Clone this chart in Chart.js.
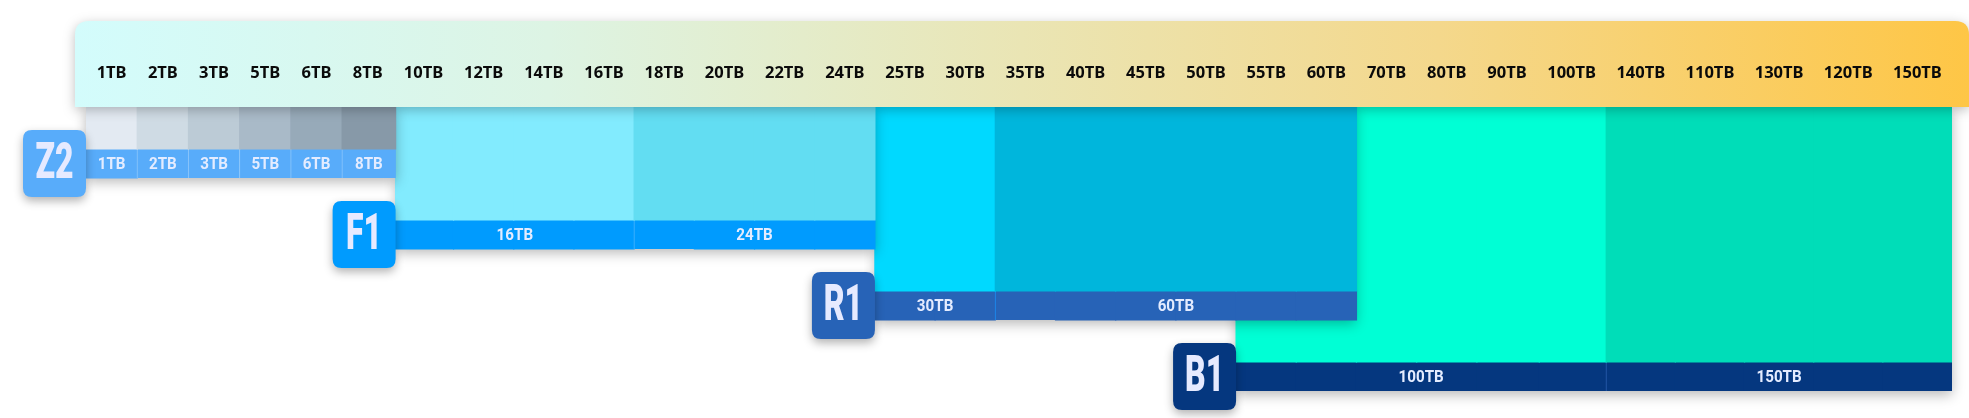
<!DOCTYPE html>
<html>
<head>
<meta charset="utf-8">
<script src="https://cdn.jsdelivr.net/npm/chart.js@4.4.1/dist/chart.umd.min.js"></script>
<style>
	html, body { margin: 0; padding: 0; background: #ffffff; }
	canvas { display: block; }
</style>
</head>
<body>
<canvas id="tierChart" width="1969" height="418"></canvas>
<script>
// header columns (order as printed on the source)
const capacities = [
	"1TB", "2TB", "3TB", "5TB", "6TB", "8TB",
	"10TB", "12TB", "14TB", "16TB", "18TB", "20TB", "22TB", "24TB",
	"25TB", "30TB", "35TB", "40TB", "45TB", "50TB", "55TB", "60TB",
	"70TB", "80TB", "90TB", "100TB", "140TB", "110TB", "130TB", "120TB", "150TB",
];

const tiers = ["Z2", "F1", "R1", "B1"];
const tierLevel = [1, 2, 3, 4];

// each cell runs from a "from" column up to its own capacity column
const z2Cells = ["1TB", "2TB", "3TB", "5TB", "6TB", "8TB"];
const z2From = ["1TB", "2TB", "3TB", "5TB", "6TB", "8TB"];
const f1Cells = ["16TB", "24TB"];
const f1From = ["10TB", "18TB"];
const r1Cells = ["30TB", "60TB"];
const r1From = ["25TB", "35TB"];
const b1Cells = ["100TB", "150TB"];
const b1From = ["55TB", "140TB"];

const cellLists = [z2Cells, f1Cells, r1Cells, b1Cells];
const fromLists = [z2From, f1From, r1From, b1From];

// styles
const bodyColors = [
	["#e3eaf2", "#cfdbe4", "#bccbd6", "#a9bac8", "#97aab9", "#8799a8"],
	["#82ebfe", "#62ddf2"],
	["#00d9ff", "#00b6dc"],
	["#00ffd5", "#00ddb8"],
];
const stripColors = ["#58acfa", "#009bfe", "#2763b7", "#05377f"];
const dividerColors = ["#8ec7fb", "#4db5fb", "#1a8ff5", "#2c5fb0"];
const STRIP = 0.41;

const headFont = { family: '"Noto Sans"', size: 16.5, weight: "bold" };

// header columns sit side by side with an even gap between texts
const measure = document.createElement("canvas").getContext("2d");
measure.font = "bold 16.5px 'Noto Sans'";
const textW = capacities.map((c) => measure.measureText(c).width);
const GAP = 24;
const colPos = [];
textW.forEach((w, i) => {
	colPos.push(i === 0 ? w / 2 : colPos[i - 1] + (textW[i - 1] + w) / 2 + GAP);
});
const last = colPos.length - 1;
const xMin = colPos[0] - (colPos[1] - colPos[0]) / 2;
const xMax = colPos[last] + (colPos[last] - colPos[last - 1]) / 2;

// which cell of a tier each column belongs to
const cellOfCol = cellLists.map((cells, t) =>
	capacities.map((c, i) => {
		for (let k = 0; k < cells.length; k++) {
			const a = capacities.indexOf(fromLists[t][k]);
			const b = capacities.indexOf(cells[k]);
			if (i >= a && i <= b) return k;
		}
		return -1;
	})
);

const datasets = [];
tiers.forEach((name, t) => {
	const cellOf = cellOfCol[t];
	const level = tierLevel[t];
	datasets.push({
		label: name + " body",
		tier: t,
		role: "body",
		data: colPos.map((x, i) => ({ x: x, y: cellOf[i] >= 0 ? [0, level - STRIP] : null })),
		backgroundColor: (ctx) => bodyColors[t][cellOf[ctx.dataIndex]] || "rgba(0,0,0,0)",
		borderWidth: 0,
		inflateAmount: 0.6,
	});
	datasets.push({
		label: name,
		tier: t,
		role: "strip",
		data: colPos.map((x, i) => ({ x: x, y: cellOf[i] >= 0 ? [level - STRIP, level] : null })),
		backgroundColor: (ctx) => (cellOf[ctx.dataIndex] >= 0 ? stripColors[t] : "rgba(0,0,0,0)"),
		borderColor: dividerColors[t],
		borderSkipped: false,
		inflateAmount: 0.6,
		borderWidth: (ctx) => {
			const i = ctx.dataIndex;
			const k = cellOf[i];
			return k > 0 && cellOf[i - 1] !== k ? { left: 1, right: 0, top: 0, bottom: 0 } : 0;
		},
	});
});

function tierCols(t) {
	const out = [];
	cellOfCol[t].forEach((k, i) => { if (k >= 0) out.push(i); });
	return out;
}

function barEdges(meta, i) {
	const el = meta.data[i];
	return { left: el.x - el.width / 2, right: el.x + el.width / 2 };
}

function roundRect(ctx, x, y, w, h, r) {
	const [tl, tr, br, bl] = Array.isArray(r) ? r : [r, r, r, r];
	ctx.beginPath();
	ctx.moveTo(x + tl, y);
	ctx.lineTo(x + w - tr, y);
	ctx.quadraticCurveTo(x + w, y, x + w, y + tr);
	ctx.lineTo(x + w, y + h - br);
	ctx.quadraticCurveTo(x + w, y + h, x + w - br, y + h);
	ctx.lineTo(x + bl, y + h);
	ctx.quadraticCurveTo(x, y + h, x, y + h - bl);
	ctx.lineTo(x, y + tl);
	ctx.quadraticCurveTo(x, y, x + tl, y);
	ctx.closePath();
}

// condensed look: draw text squeezed horizontally
function squeezedText(ctx, text, x, y, sx) {
	ctx.save();
	ctx.translate(x, y);
	ctx.scale(sx, 1);
	ctx.fillText(text, 0, 0);
	ctx.restore();
}

const tierDecor = {
	id: "tierDecor",
	beforeDatasetDraw(chart, args) {
		const ds = chart.data.datasets[args.index];
		if (ds.role !== "strip") return;
		const t = ds.tier;
		const cols = tierCols(t);
		const y = chart.scales.y;
		const left = barEdges(args.meta, cols[0]).left;
		const right = barEdges(args.meta, cols[cols.length - 1]).right;
		const top = y.getPixelForValue(0);
		const bottom = y.getPixelForValue(tierLevel[t]);
		const ctx = chart.ctx;
		ctx.save();
		ctx.shadowColor = "rgba(0,0,0,0.28)";
		ctx.shadowBlur = 12;
		ctx.shadowOffsetY = 4;
		ctx.fillStyle = stripColors[t];
		ctx.fillRect(left, top, right - left, bottom - top);
		ctx.restore();
	},
	afterDatasetsDraw(chart) {
		const ctx = chart.ctx;
		const area = chart.chartArea;
		const xs = chart.scales.x;
		const y = chart.scales.y;

		// header band
		const hx = area.left - 11;
		const hy = xs.top;
		ctx.save();
		ctx.shadowColor = "rgba(0,0,0,0.25)";
		ctx.shadowBlur = 12;
		ctx.shadowOffsetY = 3;
		const grad = ctx.createLinearGradient(hx, 0, chart.width, 0);
		grad.addColorStop(0, "#d3fcfc");
		grad.addColorStop(0.25, "#ddf4e4");
		grad.addColorStop(0.5, "#eae5b4");
		grad.addColorStop(0.72, "#f4d88c");
		grad.addColorStop(1, "#fec646");
		ctx.fillStyle = grad;
		roundRect(ctx, hx, hy, chart.width - hx, area.top - hy, [14, 14, 0, 0]);
		ctx.fill();
		ctx.restore();

		// strip labels and tier badges
		chart.data.datasets.forEach((ds, di) => {
			if (ds.role !== "strip") return;
			const t = ds.tier;
			const meta = chart.getDatasetMeta(di);
			const cy = (y.getPixelForValue(tierLevel[t] - STRIP) + y.getPixelForValue(tierLevel[t])) / 2;
			const cells = cellLists[t];
			ctx.save();
			ctx.fillStyle = "#e4ecff";
			ctx.font = "bold 16.5px Roboto";
			ctx.textAlign = "center";
			ctx.textBaseline = "middle";
			cells.forEach((c, k) => {
				const a = capacities.indexOf(fromLists[t][k]);
				const b = capacities.indexOf(c);
				const l = barEdges(meta, a).left;
				const r = barEdges(meta, b).right;
				squeezedText(ctx, c, (l + r) / 2, cy + 1, 0.92);
			});
			ctx.restore();

			const bx = barEdges(meta, tierCols(t)[0]).left;
			const bw = 63, bh = 67;
			ctx.save();
			ctx.shadowColor = "rgba(0,0,0,0.3)";
			ctx.shadowBlur = 10;
			ctx.shadowOffsetY = 4;
			ctx.fillStyle = stripColors[t];
			roundRect(ctx, bx - bw, cy - bh / 2, bw, bh, 9);
			ctx.fill();
			ctx.restore();
			ctx.save();
			ctx.fillStyle = "#e6eaff";
			ctx.font = "900 50px Roboto";
			ctx.textAlign = "center";
			ctx.textBaseline = "middle";
			squeezedText(ctx, tiers[t], bx - bw / 2, cy + 2, 0.64);
			ctx.restore();
		});
	},
};

new Chart(document.getElementById("tierChart"), {
	type: "bar",
	data: { datasets: datasets },
	plugins: [tierDecor],
	options: {
		responsive: false,
		animation: false,
		events: [],
		layout: { padding: { left: 86, right: 17, top: 21, bottom: 27 } },
		datasets: {
			bar: { barThickness: "flex", categoryPercentage: 1, barPercentage: 1 },
		},
		plugins: {
			legend: { display: false },
			tooltip: { enabled: false },
		},
		scales: {
			x: {
				type: "linear",
				position: "top",
				offset: false,
				stacked: true,
				min: xMin,
				max: xMax,
				grid: { display: false },
				border: { display: false },
				afterBuildTicks: (scale) => {
					scale.ticks = colPos.map((v) => ({ value: v }));
				},
				afterFit: (scale) => {
					scale.height = 86;
				},
				ticks: {
					z: 1,
					autoSkip: false,
					maxRotation: 0,
					padding: 16,
					color: "#0a0a0a",
					font: headFont,
					callback: (value, index) => capacities[index],
				},
			},
			y: {
				type: "linear",
				reverse: true,
				min: 0,
				max: 4,
				stacked: false,
				display: false,
			},
		},
	},
});
</script>
</body>
</html>
